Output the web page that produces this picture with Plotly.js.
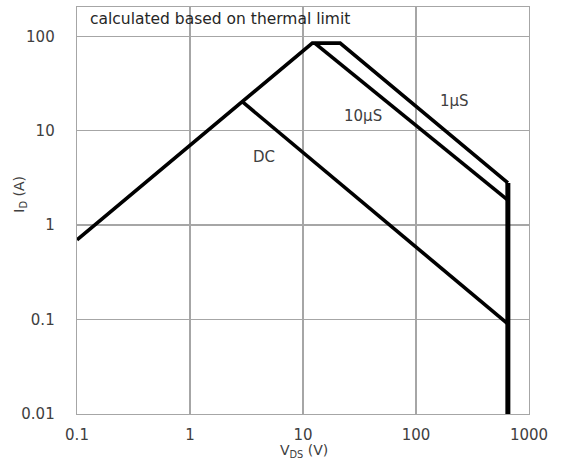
<!DOCTYPE html>
<html>
<head>
<meta charset="utf-8">
<script src="https://cdn.plot.ly/plotly-3.0.1.min.js"></script>
<style>html,body{margin:0;padding:0;background:#fff;}#chart{width:562px;height:467px;}</style>
</head>
<body>
<div id="chart"></div>
<script>
// SOA boundary vertices (VDS in V, ID in A)
const us1X = [0.1, 12.1, 21.3, 650];
const us1Y = [0.7, 84.7, 84.7, 2.8];
const us10X = [12.7, 650];
const us10Y = [84.7, 1.84];
const dcX = [2.9, 650];
const dcY = [20.3, 0.09];
const limitX = [650, 650];
const limitY = [2.8, 0.01];

const xTickVals = [0.1, 1, 10, 100, 1000];
const xTickText = ["0.1", "1", "10", "100", "1000"];
const yTickVals = [0.01, 0.1, 1, 10, 100];
const yTickText = ["0.01", "0.1", "1", "10", "100"];

const curveLabels = ["1µS", "10µS", "DC"];
const noteText = "calculated based on thermal limit";

const lineStyle = {color: "#000", width: 3.6};
const traces = [
  {x: us1X, y: us1Y, mode: "lines", line: lineStyle, name: curveLabels[0]},
  {x: us10X, y: us10Y, mode: "lines", line: lineStyle, name: curveLabels[1]},
  {x: dcX, y: dcY, mode: "lines", line: lineStyle, name: curveLabels[2]},
  {x: limitX, y: limitY, mode: "lines", line: {color: "#000", width: 5}, name: "limit"}
];

const fam = "DejaVu Sans, Open Sans, sans-serif";
const font = {family: fam, size: 15, color: "#404040"};
const gridCol = "#a6a6a6";
const lg = Math.log10;

const layout = {
  width: 562, height: 467,
  margin: {l: 77, r: 33, t: 7, b: 53},
  paper_bgcolor: "#fff", plot_bgcolor: "#fff",
  showlegend: false,
  font: font,
  xaxis: {
    type: "log", range: [-1, 3],
    tickvals: xTickVals, ticktext: xTickText,
    showgrid: true, gridcolor: gridCol, gridwidth: 1.3,
    showline: true, linecolor: gridCol, linewidth: 1.3, mirror: true,
    ticks: "", ticklabelstandoff: 7, zeroline: false,
    tickfont: font
  },
  yaxis: {
    type: "log", range: [-2, 2.31],
    tickvals: yTickVals, ticktext: yTickText,
    showgrid: true, gridcolor: gridCol, gridwidth: 1.3,
    showline: true, linecolor: gridCol, linewidth: 1.3, mirror: true,
    ticks: "", ticklabelstandoff: 18, zeroline: false,
    tickfont: font
  },
  annotations: [
    {x: lg(0.125), y: lg(152), xref: "x", yref: "y", text: noteText, showarrow: false,
     xanchor: "left", yanchor: "middle", font: {family: fam, size: 15.5, color: "#262626"}},
    {x: lg(218), y: lg(20.8), xref: "x", yref: "y", text: curveLabels[0], showarrow: false,
     font: {family: fam, size: 15, color: "#404040"}},
    {x: lg(34), y: lg(14.4), xref: "x", yref: "y", text: curveLabels[1], showarrow: false,
     font: {family: fam, size: 15, color: "#404040"}},
    {x: lg(4.5), y: lg(5.3), xref: "x", yref: "y", text: curveLabels[2], showarrow: false,
     font: {family: fam, size: 15, color: "#404040"}},
    {x: 0.503, y: -0.092, xref: "paper", yref: "paper", text: "V<sub>DS</sub> (V)", showarrow: false,
     xanchor: "center", yanchor: "middle", font: {family: fam, size: 14, color: "#404040"}},
    {x: -0.125, y: 0.54, xref: "paper", yref: "paper", text: "I<sub>D</sub> (A)", showarrow: false,
     textangle: -90, xanchor: "center", yanchor: "middle", font: {family: fam, size: 14, color: "#404040"}}
  ]
};

Plotly.newPlot("chart", traces, layout, {displayModeBar: false, staticPlot: true});
</script>
</body>
</html>
